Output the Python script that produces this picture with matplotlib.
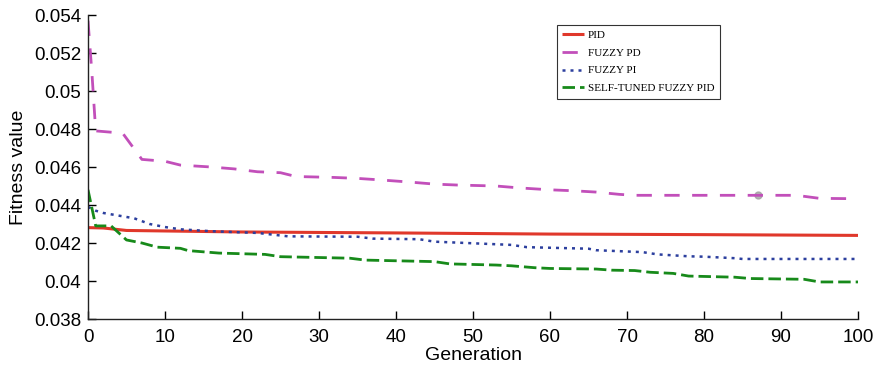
import matplotlib
matplotlib.use("Agg")
import matplotlib.pyplot as plt
import numpy as np

# ---- data ----
pid_gen = [0, 2, 5, 20, 40, 60, 80, 100]
pid_val = [0.04281, 0.04279, 0.04266, 0.04258, 0.04253, 0.04247, 0.04244, 0.04240]

pd_gen = [0, 0.5, 1, 4.5, 7, 10, 12, 16, 19, 22, 25, 27, 32, 35, 38, 42, 45, 48, 53, 56,
          60, 63, 66, 69, 71, 92, 95, 100]
pd_val = [0.0537, 0.0510, 0.0479, 0.04778, 0.0464, 0.0463, 0.0461, 0.0460, 0.0459, 0.04575,
          0.0457, 0.0455, 0.04545, 0.0454, 0.04532, 0.0452, 0.0451, 0.04505, 0.0450, 0.0449,
          0.0448, 0.04475, 0.04468, 0.04456, 0.04451, 0.04451, 0.04435, 0.04433]

pi_gen = [0, 1, 2, 6, 8, 10, 12, 16, 22, 26, 35, 37, 43, 45, 55, 57, 65, 66, 72, 74, 78,
          80, 84, 85, 100]
pi_val = [0.0439, 0.0437, 0.04358, 0.0433, 0.0430, 0.04284, 0.04272, 0.04262, 0.04253,
          0.04235, 0.04233, 0.04223, 0.0422, 0.04207, 0.04190, 0.04178, 0.0417, 0.04162,
          0.04152, 0.0414, 0.0413, 0.04128, 0.04120, 0.04116, 0.04116]

st_gen = [0, 1, 3, 5, 7, 9, 12, 13, 17, 23, 25, 34, 36, 45, 47, 53, 55, 58, 60, 66, 68,
          71, 73, 76, 78, 84, 86, 93, 95, 100]
st_val = [0.0448, 0.0429, 0.0429, 0.04216, 0.0420, 0.04178, 0.04172, 0.04160, 0.04147,
          0.04140, 0.04128, 0.04120, 0.0411, 0.04102, 0.0409, 0.04084, 0.0408, 0.0407,
          0.04066, 0.04063, 0.04057, 0.04055, 0.04046, 0.0404, 0.04026, 0.0402, 0.04013,
          0.04009, 0.03995, 0.03995]

tip_gen = [87]
tip_val = [0.04452]

labels = ["PID", "FUZZY PD", "FUZZY PI", "SELF-TUNED FUZZY PID"]
xticks = list(range(0, 101, 10))
yticks = [0.038, 0.04, 0.042, 0.044, 0.046, 0.048, 0.05, 0.052, 0.054]
ytick_labels = ["0.038", "0.04", "0.042", "0.044", "0.046", "0.048", "0.05", "0.052", "0.054"]

# ---- figure ----
fig = plt.figure(figsize=(8.77, 3.73), dpi=100)
ax = fig.add_axes([88 / 877, 1 - 319 / 373, 770 / 877, 304 / 373])

lw = 2.0
l1, = ax.plot(pid_gen, pid_val, color="#e0382b", lw=2.2, solid_capstyle="butt")
l2, = ax.plot(pd_gen, pd_val, color="#c24fba", lw=lw, dashes=(5.5, 4.5))
l3, = ax.plot(pi_gen, pi_val, color="#2c3f9e", lw=1.8, dashes=(1.2, 2.0))
l4, = ax.plot(st_gen, st_val, color="#178a1a", lw=lw, dashes=(4.5, 1.8))
ax.plot(tip_gen, tip_val, "o", color="#a0a0a0", ms=5, alpha=0.8, zorder=1)

ax.set_xlim(0, 100)
ax.set_ylim(0.038, 0.054)
ax.set_xticks(xticks)
ax.set_yticks(yticks)
ax.set_yticklabels(ytick_labels)

for s in ["top", "right"]:
    ax.spines[s].set_visible(False)
for s in ["left", "bottom"]:
    ax.spines[s].set_linewidth(1.0)
    ax.spines[s].set_color("#222222")

ax.tick_params(direction="in", length=5.5, width=1.0, labelsize=13.5)
ax.tick_params(axis="x", pad=7)
ax.tick_params(axis="y", pad=5)
for t in ax.get_xticklabels() + ax.get_yticklabels():
    t.set_fontfamily("Liberation Sans")

ax.set_xlabel("Generation", fontsize=14, family="Liberation Sans", labelpad=1)
ax.set_ylabel("Fitness value", fontsize=14, family="Liberation Sans", labelpad=5)

leg = ax.legend([l1, l2, l3, l4], labels, loc="upper left",
                bbox_to_anchor=(0.609, 0.967), frameon=True, fancybox=False,
                prop=dict(family="Liberation Serif", size=8.0), handlelength=1.9,
                handletextpad=0.4, labelspacing=0.7, borderpad=0.5, borderaxespad=0)
leg.get_frame().set_edgecolor("black")
leg.get_frame().set_linewidth(0.8)

fig.savefig("out.png", dpi=100)
